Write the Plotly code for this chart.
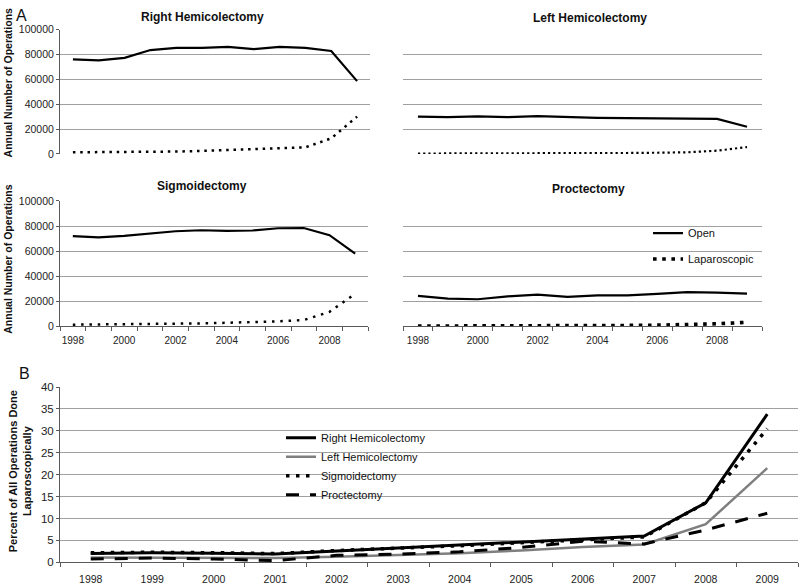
import plotly.graph_objects as go

years = list(range(1998, 2010))

# Panel A: annual number of operations
rh_open = [76000, 75200, 77200, 83500, 85200, 85200, 86000, 84200, 86000, 85300, 82700, 58500]
rh_lap = [1300, 1400, 1500, 1600, 1900, 2400, 3000, 3800, 4600, 5300, 12500, 30000]
lh_open = [30000, 29600, 30200, 29600, 30300, 29600, 29000, 28800, 28800, 28200, 28200, 21800]
lh_lap = [300, 300, 300, 320, 350, 450, 600, 750, 950, 1300, 2600, 5500]
sg_open = [72000, 70900, 72200, 74000, 75800, 76600, 76100, 76400, 78200, 78400, 72700, 57900]
sg_lap = [1300, 1400, 1400, 1500, 1900, 2300, 2800, 3300, 4000, 5000, 11500, 26000]
pr_open = [24200, 22100, 21600, 23900, 25300, 23400, 24700, 24700, 25800, 27200, 26800, 26000]
pr_lap = [200, 200, 200, 150, 300, 400, 500, 700, 900, 1200, 2000, 3200]

# Panel B: percent laparoscopic
pct_rh = [2.0, 2.2, 2.1, 1.9, 2.6, 3.3, 3.9, 4.6, 5.4, 6.0, 13.6, 33.8]
pct_lh = [1.1, 1.1, 1.1, 1.0, 1.3, 1.7, 2.1, 2.7, 3.5, 4.1, 8.7, 21.5]
pct_sg = [2.2, 2.3, 2.2, 2.0, 2.7, 3.2, 3.8, 4.5, 5.2, 5.8, 13.6, 30.5]
pct_pr = [0.75, 1.0, 0.75, 0.4, 1.6, 1.9, 2.4, 3.4, 4.8, 4.2, 7.4, 11.2]

panel_titles = ["Right Hemicolectomy", "Left Hemicolectomy", "Sigmoidectomy", "Proctectomy"]
legend_a = ["Open", "Laparoscopic"]
legend_b = ["Right Hemicolectomy", "Left Hemicolectomy", "Sigmoidectomy", "Proctectomy"]
ytick_a = [0, 20000, 40000, 60000, 80000, 100000]
xtick_a = [1998, 2000, 2002, 2004, 2006, 2008]

FONT = "Liberation Sans, Arial, sans-serif"
GRID = "#a0a0a0"
AXC = "#5a5a5a"

fig = go.Figure()

panels = [
    (rh_open, rh_lap, "x", "y", 2.5, "2.5px,4.8px"),
    (lh_open, lh_lap, "x2", "y2", 2.2, "2.2px,3px"),
    (sg_open, sg_lap, "x3", "y3", 2.5, "2.5px,5.8px"),
    (pr_open, pr_lap, "x4", "y4", 3.6, "3.6px,5.6px"),
]
for i, (op, lap, xa_, ya_, lw, dash) in enumerate(panels):
    show = (i == 3)
    fig.add_trace(go.Scatter(x=years, y=op, xaxis=xa_, yaxis=ya_, mode="lines",
                             line=dict(color="black", width=2.2),
                             name=legend_a[0], showlegend=show, legend="legend",
                             legendgroup="open"))
    fig.add_trace(go.Scatter(x=years, y=lap, xaxis=xa_, yaxis=ya_, mode="lines",
                             line=dict(color="black", width=lw, dash=dash),
                             name=legend_a[1], showlegend=show, legend="legend",
                             legendgroup="lap"))

styles_b = [
    (pct_rh, dict(color="black", width=3)),
    (pct_lh, dict(color="#7f7f7f", width=2.5)),
    (pct_sg, dict(color="black", width=3.5, dash="3.5px,6.5px")),
    (pct_pr, dict(color="black", width=3, dash="13px,11px")),
]
for name, (vals, ln) in zip(legend_b, styles_b):
    fig.add_trace(go.Scatter(x=years, y=vals, xaxis="x5", yaxis="y5", mode="lines",
                             line=ln, name=name, legend="legend2", legendgroup=name))

def xa(domain, anchor, labels):
    d = dict(domain=domain, anchor=anchor, range=[1997.5, 2009.5], showgrid=False,
             zeroline=False, fixedrange=True)
    if labels:
        d.update(showline=True, linecolor=AXC, linewidth=1, tickmode="array",
                 tickvals=xtick_a, ticks="", ticklabelstandoff=5,
                 tickfont=dict(size=10, color="#222"),
                 minor=dict(tickmode="array", tickvals=[1997.5 + k for k in range(13)],
                            ticks="outside", ticklen=4, tickcolor=AXC, showgrid=False))
    else:
        d.update(showticklabels=False, ticks="", showline=False)
    return d

def ya(domain, anchor, labels):
    d = dict(domain=domain, anchor=anchor, range=[0, 100000], tickmode="array",
             tickvals=ytick_a, tickformat="d", showgrid=True, gridcolor=GRID,
             gridwidth=1, zeroline=False, fixedrange=True)
    if labels:
        d.update(showline=True, linecolor=AXC, ticks="outside", ticklen=3,
                 tickcolor=AXC, tickfont=dict(size=10.5, color="#222"))
    else:
        d.update(showticklabels=False, ticks="", showline=False)
    return d

W, H = 800.0, 586.0
def fx(a, b): return [a / W, b / W]
def fy(top, bot): return [1 - bot / H, 1 - top / H]

top_y = fy(24, 151)
mid_y = fy(199, 327)

annotations = [
    dict(text=panel_titles[0], x=202 / W, y=1 - 11 / H),
    dict(text=panel_titles[1], x=590 / W, y=1 - 12 / H),
    dict(text=panel_titles[2], x=202 / W, y=1 - 184 / H),
    dict(text=panel_titles[3], x=588 / W, y=1 - 187 / H),
]
for a in annotations:
    a.update(xref="paper", yref="paper", showarrow=False, xanchor="center", yanchor="middle",
             font=dict(family=FONT, size=12, color="#111", weight="bold"))

annotations += [
    dict(text="A", x=21 / W, y=1 - 10 / H, font=dict(family=FONT, size=16, color="#111")),
    dict(text="B", x=24 / W, y=1 - 375 / H, font=dict(family=FONT, size=16, color="#111")),
    dict(text="Annual Number of Operations", x=8 / W, y=1 - 78 / H, textangle=-90,
         font=dict(family=FONT, size=10.5, color="#111", weight="bold")),
    dict(text="Annual Number of Operations", x=8 / W, y=1 - 258 / H, textangle=-90,
         font=dict(family=FONT, size=10.5, color="#111", weight="bold")),
    dict(text="Percent of All Operations Done<br>Laparoscopically", x=20 / W, y=1 - 475 / H,
         textangle=-90, font=dict(family=FONT, size=11, color="#111", weight="bold")),
]
for a in annotations[4:]:
    a.update(xref="paper", yref="paper", showarrow=False, xanchor="center", yanchor="middle")

fig.update_layout(
    width=800, height=586,
    margin=dict(l=0, r=0, t=0, b=0),
    paper_bgcolor="white", plot_bgcolor="white",
    font=dict(family=FONT, size=11, color="#111"),
    xaxis=xa(fx(60, 370), "y", False),
    yaxis=ya(top_y, "x", True),
    xaxis2=xa(fx(403, 762), "y2", False),
    yaxis2=ya(top_y, "x2", False),
    xaxis3=xa(fx(60, 368), "y3", True),
    yaxis3=ya(mid_y, "x3", True),
    xaxis4=xa(fx(403, 762), "y4", True),
    yaxis4=ya(mid_y, "x4", False),
    xaxis5=dict(domain=fx(60, 798), anchor="y5", range=[1997.5, 2009.5], showgrid=False,
                zeroline=False, showline=True, linecolor=AXC, tickmode="array",
                tickvals=years, ticks="", ticklabelstandoff=7,
                tickfont=dict(size=10.5, color="#222"),
                minor=dict(tickmode="array", tickvals=[1997.5 + k for k in range(13)],
                           ticks="outside", ticklen=4, tickcolor=AXC, showgrid=False)),
    yaxis5=dict(domain=fy(389, 568), anchor="x5", range=[0, 40], dtick=5, showgrid=True,
                gridcolor=GRID, zeroline=False, showline=True, linecolor=AXC,
                ticks="outside", ticklen=3, tickcolor=AXC,
                tickfont=dict(size=11.5, color="#222")),
    legend=dict(x=648 / W, y=1 - 217 / H, xanchor="left", yanchor="top",
                bgcolor="rgba(0,0,0,0)", font=dict(family=FONT, size=11, color="#111"),
                tracegroupgap=7, itemclick=False),
    legend2=dict(x=281 / W, y=1 - 426 / H, xanchor="left", yanchor="top",
                 bgcolor="rgba(0,0,0,0)", font=dict(family=FONT, size=11, color="#111"),
                 tracegroupgap=0, itemclick=False),
    annotations=annotations,
    showlegend=True,
)

fig.write_html("out.html", config={"displayModeBar": False},
               post_script="document.body.style.margin='0px';")
